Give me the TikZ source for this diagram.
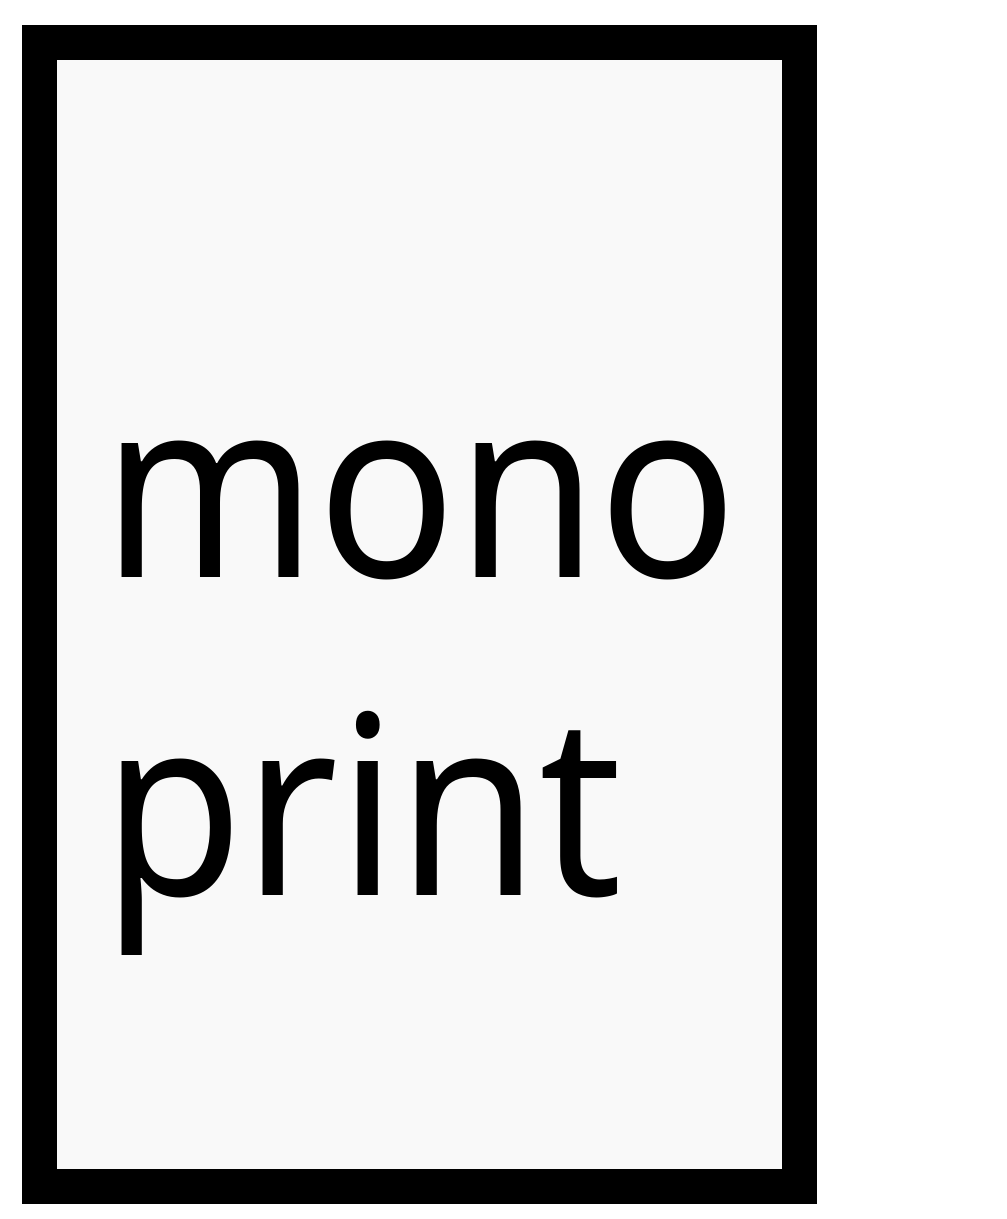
\documentclass[tikz,border=0pt]{standalone}
\usepackage{fontspec}
\setmainfont[FakeStretch=0.92]{Noto Sans}
\usepackage{tikz}
\usetikzlibrary{calc}

\definecolor{paper}{HTML}{F9F9F9}

\begin{document}
\begin{tikzpicture}[x=1pt,y=1pt,
    frame/.style={draw=black, fill=paper, line width=17.5pt, rectangle, inner sep=0pt, minimum width=380pt, minimum height=572pt},
    word/.style={inner sep=0pt, anchor=base west, font=\fontsize{125pt}{159pt}\selectfont}]
        \useasboundingbox (0,0) rectangle (503,-609.5);

        % Frame
        \node[frame] (Frame) at (209.75,-307.25) {};

        % Text
        \node[word] (Mono) at (50.8,-288.5) {mono};
        \node[word] (Print) at ($(Mono.base west)+(0,-159)$) {print};
      \end{tikzpicture}
\end{document}
